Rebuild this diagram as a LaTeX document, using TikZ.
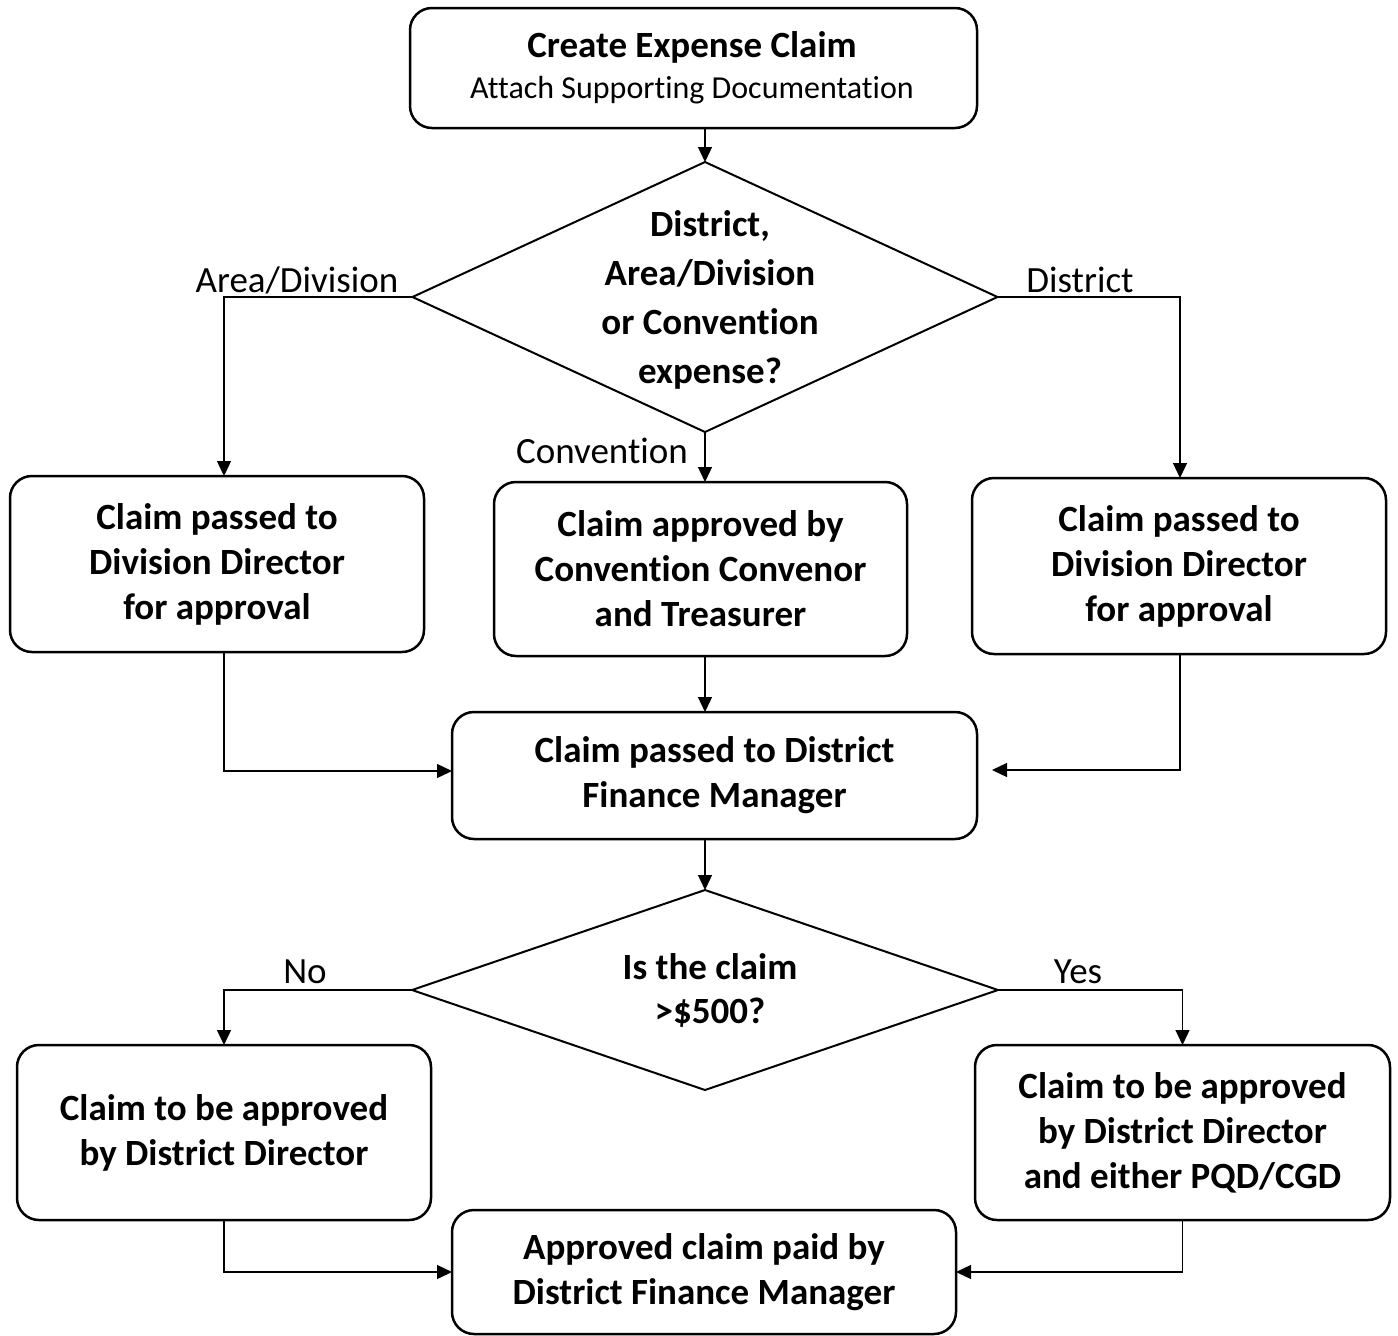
\documentclass[tikz,border=0pt]{standalone}
\usepackage{fontspec}
\setmainfont[Ligatures=NoCommon]{Carlito}
\usetikzlibrary{shapes.geometric,arrows.meta}
\begin{document}
\begin{tikzpicture}[x=1pt,y=-1pt,
 box/.style={draw,line width=2.5pt,rounded corners=22pt,align=center,inner sep=0pt,outer sep=0pt,font=\bfseries\fontsize{37}{45}\selectfont},
 diam/.style={draw,diamond,line width=2pt,inner sep=0pt,outer sep=0pt},
 dtext/.style={align=center,inner sep=0pt,font=\bfseries\fontsize{37}{49}\selectfont},
 lbl/.style={font=\fontsize{37}{45}\selectfont,inner sep=0pt},
 arr/.style={line width=1.3pt,-{Triangle[length=15pt,width=14pt]}},
 conn/.style={line width=1.3pt}]
\useasboundingbox (0,0) rectangle (1398,1336);

% boxes
\node[box,minimum width=567pt,minimum height=120pt] (top) at (693.5,68) {};
\node[inner sep=0pt,font=\bfseries\fontsize{37}{45}\selectfont] (toptitle) at (692,47) {Create Expense Claim};
\node[inner sep=0pt,font=\fontsize{32}{40}\selectfont] (topsub) at (692,90) {Attach Supporting Documentation};

\node[box,minimum width=414pt,minimum height=176pt] (L1) at (217,564) {Claim passed to\\Division Director\\for approval};
\node[box,minimum width=413pt,minimum height=174pt] (C1) at (700.5,569) {Claim approved by\\Convention Convenor\\and Treasurer};
\node[box,minimum width=414pt,minimum height=176pt] (R1) at (1179,566) {Claim passed to\\Division Director\\for approval};
\node[box,minimum width=525pt,minimum height=127pt] (M) at (714.5,775.5) {Claim passed to District\\Finance Manager};
\node[box,minimum width=414pt,minimum height=175pt] (L2) at (224,1132.5) {Claim to be approved\\by District Director};
\node[box,minimum width=415pt,minimum height=175pt] (R2) at (1182.5,1132.5) {Claim to be approved\\by District Director\\and either PQD/CGD};
\node[box,minimum width=504pt,minimum height=124pt] (B) at (704,1272) {Approved claim paid by\\District Finance Manager};

% diamonds
\node[diam,minimum width=585pt,minimum height=270pt] (d1) at (705,297) {};
\node[dtext] (d1t) at (710,299.5) {District,\\Area/Division\\or Convention\\expense?};
\node[diam,minimum width=586pt,minimum height=200pt] (d2) at (705,990) {};
\node[dtext,font=\bfseries\fontsize{37}{44}\selectfont] (d2t) at (710,990) {Is the claim\\>\$500?};

% labels
\node[lbl] (lArea) at (297,280) {Area/Division};
\node[lbl] (lDist) at (1080,280) {District};
\node[lbl] (lConv) at (602,451) {Convention};
\node[lbl] (lNo) at (305,972) {No};
\node[lbl] (lYes) at (1078,972) {Yes};

% connectors
\draw[arr] (d1.north |- top.south) -- (d1.north);
\draw[arr] (d1.west) -| ([xshift=7pt]L1.north);
\draw[arr] (d1.east) -| ([xshift=1pt]R1.north);
\draw[arr] (d1.south) -- (d1.south |- C1.north);
\draw[arr] (d1.south |- C1.south) -- (d1.south |- M.north);
\draw[arr] ([xshift=7pt]L1.south) |- ([yshift=4.5pt]M.west);
\draw[arr,shorten >=15pt] ([xshift=1pt]R1.south) |- ([yshift=5.5pt]M.east);
\draw[arr] (d1.south |- M.south) -- (d2.north);
\draw[arr] (d2.west) -| (L2.north);
\draw[arr] (d2.east) -| (R2.north);
\draw[arr] (L2.south) |- (B.west);
\draw[arr] (R2.south) |- (B.east);
\end{tikzpicture}
\end{document}
